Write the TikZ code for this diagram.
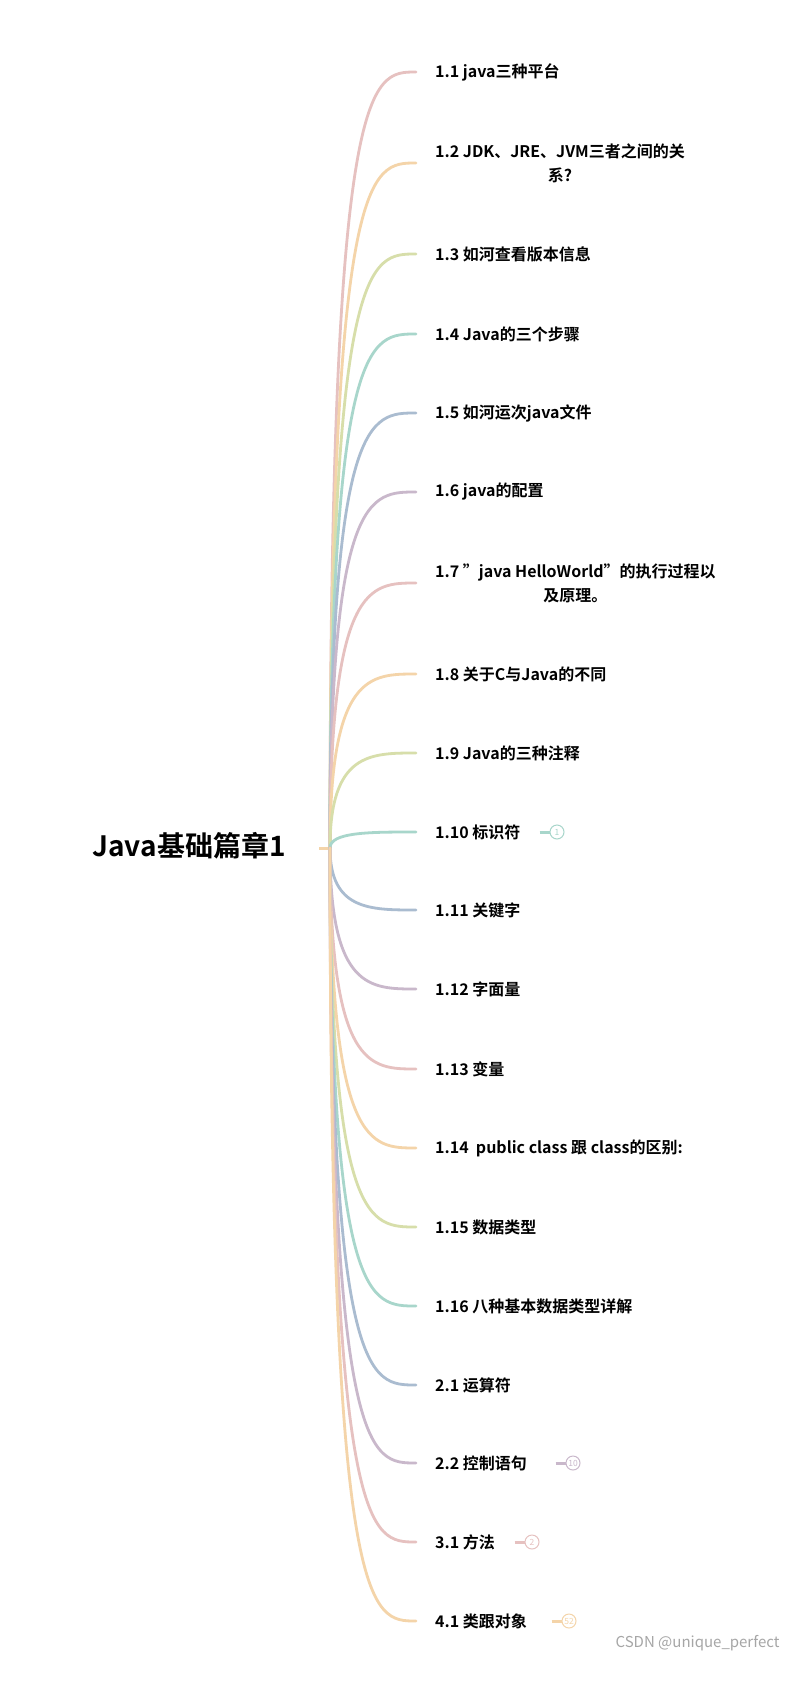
\documentclass[tikz,border=0pt]{standalone}
\usepackage{fontspec}
\setmainfont{Noto Sans CJK SC}[BoldFont={Noto Sans CJK SC Bold},Ligatures=ResetAll]
\definecolor{cA}{HTML}{E6C1C0}
\definecolor{cB}{HTML}{F4D4A9}
\definecolor{cC}{HTML}{D7DEAA}
\definecolor{cD}{HTML}{A8D6CB}
\definecolor{cE}{HTML}{AABCD0}
\definecolor{cF}{HTML}{C9B8CB}
\begin{document}
\begin{tikzpicture}[x=1pt,y=-1pt,
  lab/.style={anchor=west,inner sep=0pt,font=\fontsize{16}{24}\selectfont\bfseries},
  br/.style={line width=2.8pt,line cap=round},
  badge/.style={circle,draw,line width=1pt,minimum size=14pt,inner sep=0pt,font=\fontsize{8.5}{8.5}\selectfont}]
\useasboundingbox[fill=white] (0,0) rectangle (797,1693);
\node[font=\fontsize{28}{32}\selectfont\bfseries] (root) at (189,846) {Java基础篇章1};
\coordinate (o) at (330,848);
\draw[cB,line width=3pt] (319,848) -- (o);
\newcommand\brn[5]{%
  \node[lab,#4] (#1) at (435,#2) {#5};
  \draw[br,#3,shorten >=19pt] (o) .. controls (330,#2) and (370,#2) .. (#1.west);}
\brn{n1}{72}{cA}{}{1.1 java三种平台}
\brn{n2}{163}{cB}{align=center}{1.2 JDK、JRE、JVM三者之间的关\\系?}
\brn{n3}{254}{cC}{}{1.3 如河查看版本信息}
\brn{n4}{334}{cD}{}{1.4 Java的三个步骤}
\brn{n5}{413}{cE}{}{1.5 如河运次java文件}
\brn{n6}{492}{cF}{}{1.6 java的配置}
\brn{n7}{583}{cA}{align=center}{1.7 "java HelloWorld"的执行过程以\\及原理。}
\brn{n8}{674}{cB}{}{1.8 关于C与Java的不同}
\brn{n9}{753}{cC}{}{1.9 Java的三种注释}
\brn{n10}{832}{cD}{}{1.10 标识符}
\brn{n11}{910}{cE}{}{1.11 关键字}
\brn{n12}{989}{cF}{}{1.12 字面量}
\brn{n13}{1069}{cA}{}{1.13 变量}
\brn{n14}{1148}{cB}{}{1.14 \ public class 跟 class的区别:}
\brn{n15}{1227}{cC}{}{1.15 数据类型}
\brn{n16}{1306}{cD}{}{1.16 八种基本数据类型详解}
\brn{n17}{1385}{cE}{}{2.1 运算符}
\brn{n18}{1463}{cF}{}{2.2 控制语句}
\brn{n19}{1542}{cA}{}{3.1 方法}
\brn{n20}{1621}{cB}{}{4.1 类跟对象}
\newcommand\bdg[5]{%
  \node[badge,draw=#3,text=#3] (#1) at (#2,#4) {#5};
  \draw[#3,line width=3pt] ([xshift=-10pt]#1.west) -- (#1.west);}
\bdg{b1}{557}{cD}{832}{1}
\bdg{b2}{573}{cF}{1463}{10}
\bdg{b3}{532}{cA}{1542}{2}
\bdg{b4}{569}{cB}{1621}{52}
\node[anchor=east,text=gray!70,font=\fontsize{15}{18}\selectfont] (wm) at (783,1643) {CSDN @unique\_perfect};
\end{tikzpicture}
\end{document}
